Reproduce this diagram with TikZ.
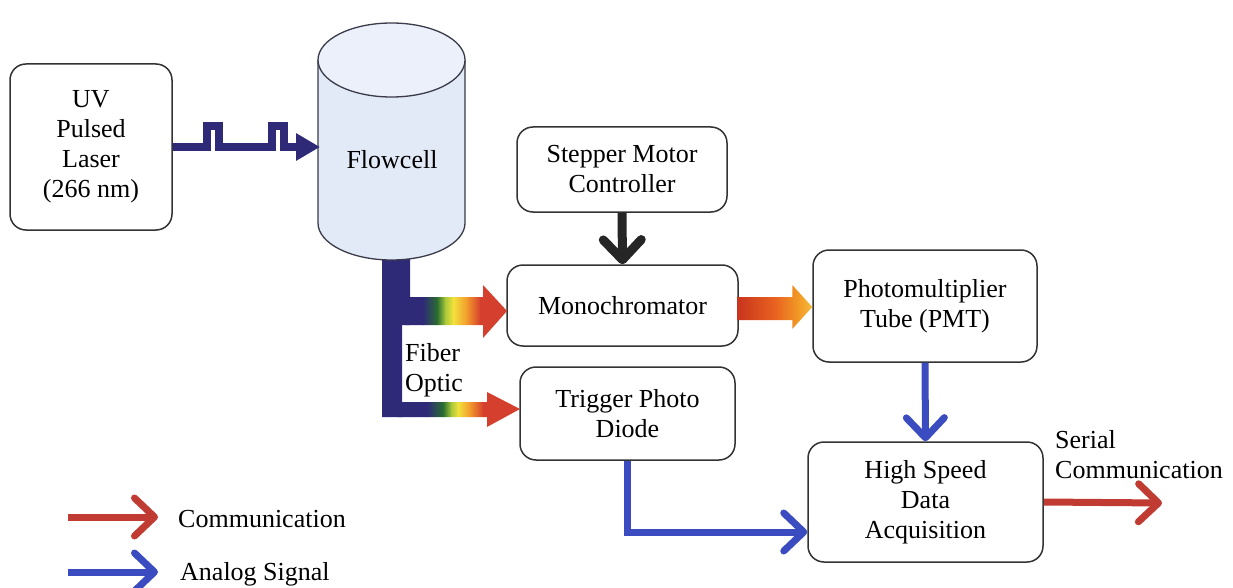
\documentclass[tikz,border=0pt]{standalone}
\usepackage{fontspec}
\setmainfont{Liberation Serif}
\usetikzlibrary{arrows.meta}

\definecolor{navyfiber}{HTML}{2E2A78}
\definecolor{analogblue}{HTML}{3A4CC0}
\definecolor{commred}{HTML}{C03B31}
\definecolor{ctrlblack}{HTML}{262626}
\definecolor{boxline}{HTML}{333333}
\definecolor{cellbody}{HTML}{E2EAF7}
\definecolor{celltop}{HTML}{EBF0FA}
\definecolor{celledge}{HTML}{3A3A4A}
% spectrum colours of the fibre outputs
\definecolor{specgreen}{HTML}{2A6E30}
\definecolor{speclime}{HTML}{A8C83A}
\definecolor{specyellow}{HTML}{F2E23C}
\definecolor{specorange}{HTML}{F2982C}
\definecolor{specred}{HTML}{D5402E}
% warm colours of the monochromator output
\definecolor{warmred}{HTML}{C9341E}
\definecolor{warmmid}{HTML}{E8621F}
\definecolor{warmorange}{HTML}{F29A25}
\definecolor{warmyellow}{HTML}{F6BB3C}

\pgfdeclarehorizontalshading{warmbeam}{100bp}{%
  color(0bp)=(warmred); color(25bp)=(warmred); color(50bp)=(warmmid);
  color(66bp)=(warmorange); color(75bp)=(warmyellow); color(100bp)=(warmyellow)}

\newcommand\diagfont{\fontsize{26}{30}\selectfont}

% spectrum bands: #1..#6 are the x stops navy|green|lime|yellow|orange|red,
% #7 and #8 the vertical extent of the bands
\newcommand\spectrumbands[8]{%
  \fill[navyfiber] (370,#7) rectangle (#1+0.5,#8);
  \shade[left color=navyfiber, right color=specgreen] (#1,#7) rectangle (#2+0.5,#8);
  \shade[left color=specgreen, right color=speclime] (#2,#7) rectangle (#3+0.5,#8);
  \shade[left color=speclime, right color=specyellow] (#3,#7) rectangle (#4+0.5,#8);
  \shade[left color=specyellow, right color=specorange] (#4,#7) rectangle (#5+0.5,#8);
  \shade[left color=specorange, right color=specred] (#5,#7) rectangle (#6+0.5,#8);
  \fill[specred] (#6,#7) rectangle (540,#8);}

\begin{document}
\begin{tikzpicture}[x=1pt,y=-1pt,
  blk/.style={draw=boxline, line width=1.5pt, rounded corners=16pt, fill=white,
    align=center, inner sep=0pt, font=\diagfont},
  lbl/.style={inner sep=0pt, font=\diagfont},
  pulse/.style={draw=navyfiber, line width=8pt, line join=miter,
    -{Triangle[length=24pt,width=26pt]}},
  analog/.style={draw=analogblue, line width=7pt, line join=miter,
    -{Straight Barb[length=20pt,width=38pt,round]}},
  comm/.style={draw=commred, line width=7pt,
    -{Straight Barb[length=20pt,width=38pt,round]}},
  ctrl/.style={draw=ctrlblack, line width=9pt,
    -{Straight Barb[length=20pt,width=38pt,round]}}]

\useasboundingbox (0,0) rectangle (1233,588);

% ---- blocks
\node[blk, minimum width=162pt, minimum height=166pt] (laser) at (91,147)
  {UV\\Pulsed\\Laser\\(266 nm)};
\node[blk, minimum width=210pt, minimum height=85pt] (stepper) at (622,169.5)
  {Stepper Motor\\Controller};
\node[blk, minimum width=231pt, minimum height=81pt] (mono) at (622.5,305.5)
  {Monochromator};
\node[blk, minimum width=224pt, minimum height=112pt] (pmt) at (925,306)
  {Photomultiplier\\Tube (PMT)};
\node[blk, minimum width=215pt, minimum height=93pt] (trigger) at (627.5,413.5)
  {Trigger Photo\\Diode};
\node[blk, minimum width=235pt, minimum height=120pt] (daq) at (925.5,502)
  {High Speed\\Data\\Acquisition};

% ---- optical fibre leaving the flow cell (drawn first, the cell covers its top)
\fill[navyfiber] (382,245) -- (410,245) -- (410,325) -- (402,325) -- (402,417)
  -- (382,417) -- cycle;
% branch to the monochromator
\begin{scope}
  \clip (405,297) -- (483,297) -- (483,285) -- (507,311) -- (483,338)
    -- (483,325) -- (405,325) -- cycle;
  \spectrumbands{423}{437}{445}{453}{467}{480}{280}{345}
\end{scope}
% branch to the trigger photodiode
\begin{scope}
  \clip (398,402) -- (487,402) -- (487,392) -- (520,409) -- (487,427)
    -- (487,417) -- (398,417) -- cycle;
  \spectrumbands{427}{443}{451}{458}{470}{483}{385}{432}
\end{scope}
\node[lbl, anchor=west, align=left] (fiber) at (405,370) {Fiber\\Optic};

% ---- flow cell cylinder
\path[fill=cellbody, draw=celledge, line width=1.3pt]
  (318,60) -- (318,223) arc[start angle=180, end angle=0, x radius=73.5, y radius=37]
  -- (465,60);
\draw[fill=celltop, draw=celledge, line width=1.3pt]
  (391.5,60) ellipse [x radius=73.5, y radius=37];
\node[lbl] (flowcell) at (392,160) {Flowcell};
\coordinate (cellin) at (320,147);

% ---- pulsed laser beam
\draw[pulse] (laser.east) -- ++(34,0) -- ++(0,-21) -- ++(12,0) -- ++(0,21)
  -- ++(53,0) -- ++(0,-21) -- ++(12,0) -- ++(0,21) -- (cellin);

% ---- monochromator output beam
\begin{scope}[shift={(pmt.west)}]
  \shade[shading=warmbeam]
    (-75,-9) -- (-20,-9) -- (-20,-21) -- (0,1) -- (-20,23) -- (-20,14)
    -- (-75,14) -- cycle;
\end{scope}

% ---- control and signal connections
\draw[ctrl] (stepper.south) -- (mono.north);
\draw[analog] (pmt.south) -- (daq.north);
\draw[analog] (trigger.south) |- ([yshift=-30pt]daq.west);

% ---- serial output
\coordinate (serialend) at (1162,503);
\draw[comm] (daq.east) -- (serialend);
\node[lbl, anchor=west, align=left] (serial) at (1055,455)
  {Serial\\Communication};

% ---- legend
\coordinate (legcommA) at (68,517);
\coordinate (legcommB) at (158,517);
\coordinate (leganaA) at (68,572);
\coordinate (leganaB) at (158,572);
\draw[comm] (legcommA) -- (legcommB);
\draw[analog] (leganaA) -- (leganaB);
\node[lbl, anchor=west] (legcomm) at (178,519) {Communication};
\node[lbl, anchor=west] (legana) at (180,574) {Analog Signal};

\end{tikzpicture}
\end{document}
